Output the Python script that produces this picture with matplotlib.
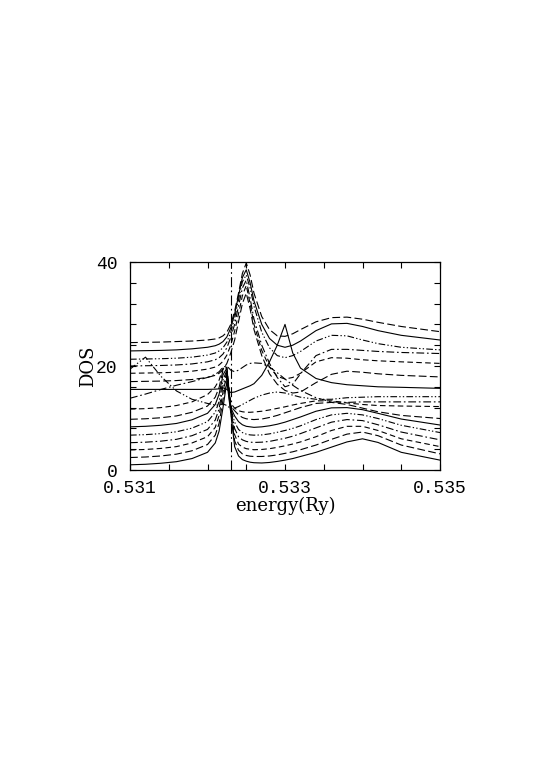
import matplotlib
matplotlib.use("Agg")
import matplotlib.pyplot as plt
from matplotlib.ticker import MultipleLocator, FixedLocator

# energy grid (Ry)
energy = [0.5310, 0.5312, 0.5314, 0.5316, 0.5318, 0.5320, 0.5321, 0.53215, 0.5322, 0.53225,
          0.5323, 0.53235, 0.5324, 0.53245, 0.5325, 0.53255, 0.5326, 0.5327, 0.5328, 0.5329,
          0.5330, 0.5331, 0.5332, 0.5334, 0.5336, 0.5338, 0.5340, 0.5342, 0.5345, 0.5350]

dos_00 = [1.0, 1.1, 1.3, 1.6, 2.2, 3.4, 5.2, 7.5, 12.0, 17.0, 11.0, 4.5, 2.7, 2.0, 1.7, 1.5, 1.4, 1.35, 1.45, 1.65, 1.9, 2.2, 2.6, 3.4, 4.4, 5.4, 6.0, 5.3, 3.4, 1.9]
dos_01 = [2.4, 2.5, 2.7, 3.05, 3.7, 4.9, 6.7, 9.0, 13.5, 17.8, 11.3, 5.6, 3.8, 3.1, 2.8, 2.65, 2.6, 2.6, 2.7, 2.9, 3.2, 3.5, 3.9, 4.8, 5.9, 6.9, 7.3, 6.6, 4.8, 3.1]
dos_02 = [3.85, 3.95, 4.15, 4.5, 5.2, 6.4, 8.2, 10.5, 15.0, 18.3, 11.5, 6.8, 5.0, 4.4, 4.1, 4.0, 3.9, 3.95, 4.1, 4.35, 4.65, 5.0, 5.4, 6.4, 7.6, 8.4, 8.4, 7.6, 6.0, 4.5]
dos_03 = [5.25, 5.35, 5.55, 5.9, 6.6, 7.8, 9.6, 11.8, 16.2, 18.8, 11.7, 8.0, 6.4, 5.8, 5.5, 5.35, 5.3, 5.35, 5.5, 5.8, 6.1, 6.5, 7.0, 8.1, 9.2, 9.7, 9.5, 8.7, 7.3, 5.8]
dos_04 = [6.7, 6.8, 7.0, 7.35, 8.05, 9.3, 11.1, 13.2, 17.3, 19.2, 11.8, 9.2, 7.8, 7.2, 6.9, 6.75, 6.7, 6.75, 6.95, 7.25, 7.6, 8.0, 8.5, 9.7, 10.6, 10.9, 10.6, 9.9, 8.6, 7.2]
dos_05 = [8.3, 8.4, 8.6, 8.95, 9.65, 10.9, 12.6, 14.6, 18.3, 19.6, 12.0, 10.4, 9.3, 8.7, 8.4, 8.3, 8.2, 8.3, 8.5, 8.8, 9.2, 9.7, 10.2, 11.3, 11.95, 12.0, 11.6, 10.9, 9.8, 8.65]
dos_06 = [9.75, 9.85, 10.05, 10.4, 11.1, 12.3, 14.0, 15.9, 19.2, 19.8, 12.3, 11.4, 10.6, 10.1, 9.85, 9.75, 9.7, 9.8, 10.1, 10.5, 11.0, 11.5, 12.0, 12.8, 13.0, 12.6, 11.9, 11.2, 10.5, 9.9]
dos_07 = [11.7, 11.8, 12.0, 12.4, 13.1, 14.5, 16.0, 17.3, 19.6, 19.0, 12.8, 11.9, 11.4, 11.2, 11.1, 11.1, 11.15, 11.3, 11.55, 11.85, 12.15, 12.5, 12.8, 13.3, 13.3, 12.9, 12.6, 12.4, 12.3, 12.2]
dos_08 = [13.8, 14.6, 15.5, 16.3, 17.0, 17.8, 18.4, 18.9, 19.8, 20.0, 19.2, 18.9, 19.2, 19.7, 20.2, 20.5, 20.6, 20.5, 19.8, 18.7, 17.5, 16.3, 15.3, 13.9, 13.1, 13.0, 13.1, 13.1, 13.1, 13.1]
dos_09 = [19.4, 21.7, 18.0, 15.2, 13.6, 12.8, 12.5, 12.5, 12.7, 12.4, 11.8, 11.9, 12.2, 12.6, 13.0, 13.4, 13.8, 14.4, 14.8, 15.0, 14.8, 14.4, 14.0, 13.6, 13.6, 13.9, 14.0, 14.1, 14.1, 14.1]
dos_10 = [15.5, 15.5, 15.5, 15.5, 15.5, 15.5, 15.55, 15.6, 15.8, 15.5, 14.9, 15.0, 15.3, 15.6, 15.9, 16.2, 16.6, 18.2, 20.8, 24.0, 28.0, 22.5, 19.6, 17.6, 16.8, 16.4, 16.2, 16.0, 15.9, 15.7]
dos_11 = [17.0, 17.05, 17.1, 17.2, 17.4, 17.8, 18.2, 18.6, 19.3, 20.5, 22.5, 25.0, 28.5, 32.0, 34.0, 31.0, 27.0, 22.0, 18.5, 16.5, 15.3, 14.8, 15.0, 16.8, 18.4, 19.0, 18.8, 18.5, 18.2, 17.9]
dos_12 = [18.6, 18.65, 18.7, 18.8, 19.0, 19.4, 19.8, 20.2, 20.9, 22.1, 24.0, 26.7, 30.0, 33.5, 35.5, 32.0, 28.0, 23.0, 19.8, 18.0, 17.5, 17.8, 18.6, 20.8, 21.6, 21.5, 21.2, 21.0, 20.8, 20.5]
dos_13 = [20.0, 20.05, 20.1, 20.2, 20.4, 20.8, 21.2, 21.6, 22.3, 23.5, 25.5, 28.0, 31.5, 35.0, 36.5, 33.0, 29.0, 24.0, 20.5, 17.8, 16.0, 16.5, 18.5, 22.0, 23.2, 23.2, 23.0, 22.8, 22.6, 22.4]
dos_14 = [21.3, 21.35, 21.4, 21.5, 21.7, 22.1, 22.5, 22.9, 23.5, 24.6, 26.5, 29.2, 32.7, 36.2, 37.5, 35.0, 31.5, 26.5, 23.5, 22.0, 21.6, 22.0, 22.8, 24.8, 25.9, 25.8, 25.0, 24.3, 23.6, 23.1]
dos_15 = [22.9, 22.95, 23.0, 23.1, 23.3, 23.6, 23.9, 24.2, 24.7, 25.6, 27.3, 30.0, 33.5, 37.0, 38.5, 36.0, 32.5, 28.0, 25.3, 24.0, 23.6, 24.0, 24.8, 26.8, 28.1, 28.2, 27.6, 26.8, 25.9, 25.0]
dos_16 = [24.5, 24.55, 24.6, 24.7, 24.8, 25.0, 25.2, 25.4, 25.8, 26.5, 28.0, 30.5, 34.0, 37.8, 39.8, 37.5, 34.0, 29.5, 27.0, 25.8, 25.7, 26.2, 27.0, 28.5, 29.3, 29.4, 29.0, 28.4, 27.6, 26.6]

curves = [dos_00, dos_01, dos_02, dos_03, dos_04, dos_05, dos_06, dos_07, dos_08,
          dos_09, dos_10, dos_11, dos_12, dos_13, dos_14, dos_15, dos_16]

fermi_energy = 0.5323
x_ticks = [0.531, 0.533, 0.535]
x_ticklabels = ["0.531", "0.533", "0.535"]
y_ticks = [0, 20, 40]
y_ticklabels = ["0", "20", "40"]

styles = ["-", (0, (7, 3)), (0, (5, 3)), (0, (7, 2.5, 1.5, 2.5)), (0, (6, 2, 1.2, 2, 1.2, 2))]

fig = plt.figure(figsize=(5.45, 7.71), dpi=100)
ax = fig.add_axes([130 / 545, 1 - 470 / 771, 310 / 545, 208 / 771])

for k, ys in enumerate(curves):
    ax.plot(energy, ys, color="black", lw=0.8, linestyle=styles[k % 5], clip_on=True)

ax.axvline(fermi_energy, color="black", lw=0.8, linestyle=(0, (9, 3, 1.5, 3)))

ax.set_xlim(0.531, 0.535)
ax.set_ylim(0, 40)
ax.xaxis.set_major_locator(FixedLocator(x_ticks))
ax.set_xticklabels(x_ticklabels)
ax.xaxis.set_minor_locator(MultipleLocator(0.0005))
ax.yaxis.set_major_locator(FixedLocator(y_ticks))
ax.set_yticklabels(y_ticklabels)
ax.yaxis.set_minor_locator(MultipleLocator(4))
ax.tick_params(which="both", direction="in", top=True, right=True, length=4, width=0.8)
for lab in ax.get_xticklabels() + ax.get_yticklabels():
    lab.set_fontfamily("Liberation Mono")
    lab.set_fontsize(13)
ax.tick_params(axis="x", pad=7)
ax.tick_params(axis="y", pad=9)
for sp in ax.spines.values():
    sp.set_linewidth(0.9)

ax.set_xlabel("energy(Ry)", fontfamily="DejaVu Serif", fontsize=13, labelpad=0)
ax.set_ylabel("DOS", fontfamily="DejaVu Serif", fontsize=13, labelpad=-1)

fig.savefig("out.png", dpi=100)
